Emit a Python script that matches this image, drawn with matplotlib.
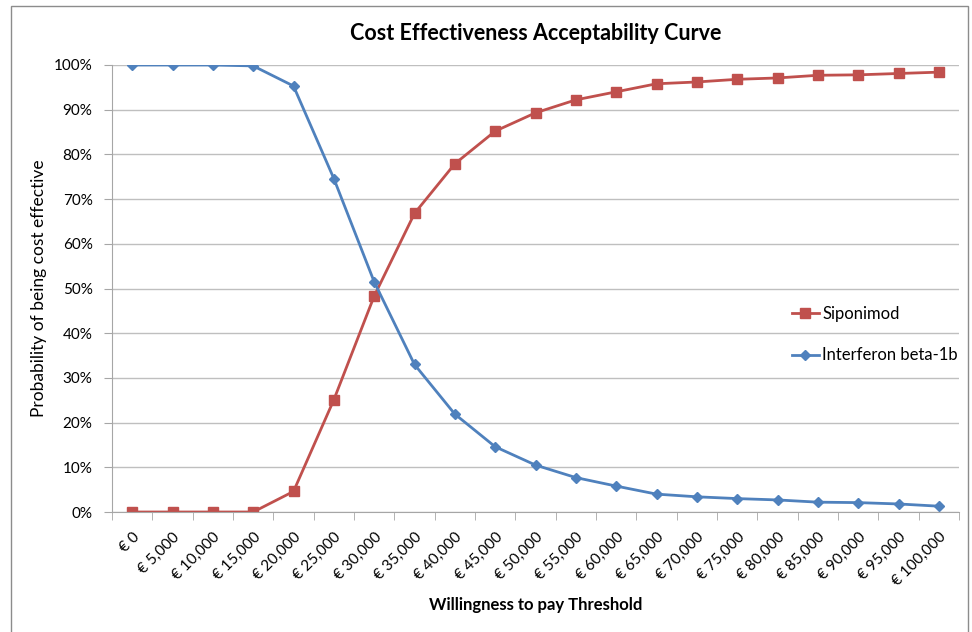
import matplotlib.pyplot as plt
from matplotlib.patches import Rectangle
from matplotlib.ticker import PercentFormatter, FixedLocator, NullFormatter

thresholds = ["€ 0", "€ 5,000", "€ 10,000", "€ 15,000", "€ 20,000", "€ 25,000",
              "€ 30,000", "€ 35,000", "€ 40,000", "€ 45,000", "€ 50,000",
              "€ 55,000", "€ 60,000", "€ 65,000", "€ 70,000", "€ 75,000",
              "€ 80,000", "€ 85,000", "€ 90,000", "€ 95,000", "€ 100,000"]
siponimod = [0.0, 0.0, 0.0, 0.0, 4.6, 25.1, 48.3, 66.8, 77.9, 85.2, 89.3,
             92.2, 94.0, 95.8, 96.2, 96.8, 97.1, 97.7, 97.8, 98.1, 98.4]
interferon = [100.0, 100.0, 100.0, 99.8, 95.3, 74.6, 51.5, 33.0, 21.9, 14.6, 10.5,
              7.7, 5.8, 4.0, 3.4, 3.0, 2.7, 2.2, 2.1, 1.8, 1.3]

plt.rcParams['font.family'] = ['Lato', 'DejaVu Sans']

fig = plt.figure(figsize=(9.72, 6.32), dpi=100)
ax = fig.add_axes([112 / 972, 120 / 632, 847 / 972, 447 / 632])

x = list(range(len(thresholds)))
ax.plot(x, siponimod, color='#C0504D', lw=2, marker='s', ms=7, label='Siponimod')
ax.plot(x, interferon, color='#4F81BD', lw=2, marker='D', ms=5.5, label='Interferon beta-1b')

ax.set_xlim(-0.5, len(thresholds) - 0.5)
ax.set_ylim(0, 100)
ax.set_yticks(range(0, 101, 10))
ax.yaxis.set_major_formatter(PercentFormatter(decimals=0))
ax.set_xticks(x)
ax.set_xticklabels(thresholds, rotation=45, ha='right', rotation_mode='anchor', fontsize=11)
ax.tick_params(axis='x', which='major', length=0, pad=13)
ax.xaxis.set_minor_locator(FixedLocator([i - 0.5 for i in range(len(thresholds) + 1)]))
ax.xaxis.set_minor_formatter(NullFormatter())
ax.tick_params(axis='x', which='minor', length=6, color='#A6A6A6')
ax.tick_params(axis='y', length=6, color='#A6A6A6', labelsize=11, pad=8)

ax.grid(axis='y', color='#BFBFBF', lw=1)
ax.set_axisbelow(True)
for s in ['top', 'right']:
    ax.spines[s].set_visible(False)
for s in ['left', 'bottom']:
    ax.spines[s].set_color('#A6A6A6')

ax.set_title('Cost Effectiveness Acceptability Curve', fontsize=15.5, fontweight='bold', pad=18)
ax.set_ylabel('Probability of being cost effective', fontsize=12.5, labelpad=5)
ax.set_xlabel('Willingness to pay Threshold', fontsize=12, fontweight='bold', labelpad=6)

ax.legend(loc='center left', bbox_to_anchor=(0.795, 0.397), frameon=False, fontsize=12,
          labelspacing=1.55, handlelength=1.6, handletextpad=0.2, borderaxespad=0)

fig.patches.append(Rectangle((11 / 972, -0.05), 957 / 972, 1.05 - 6 / 632,
                             transform=fig.transFigure, fill=False,
                             edgecolor='#8C8C8C', lw=1))

fig.savefig('out.png', dpi=100)
